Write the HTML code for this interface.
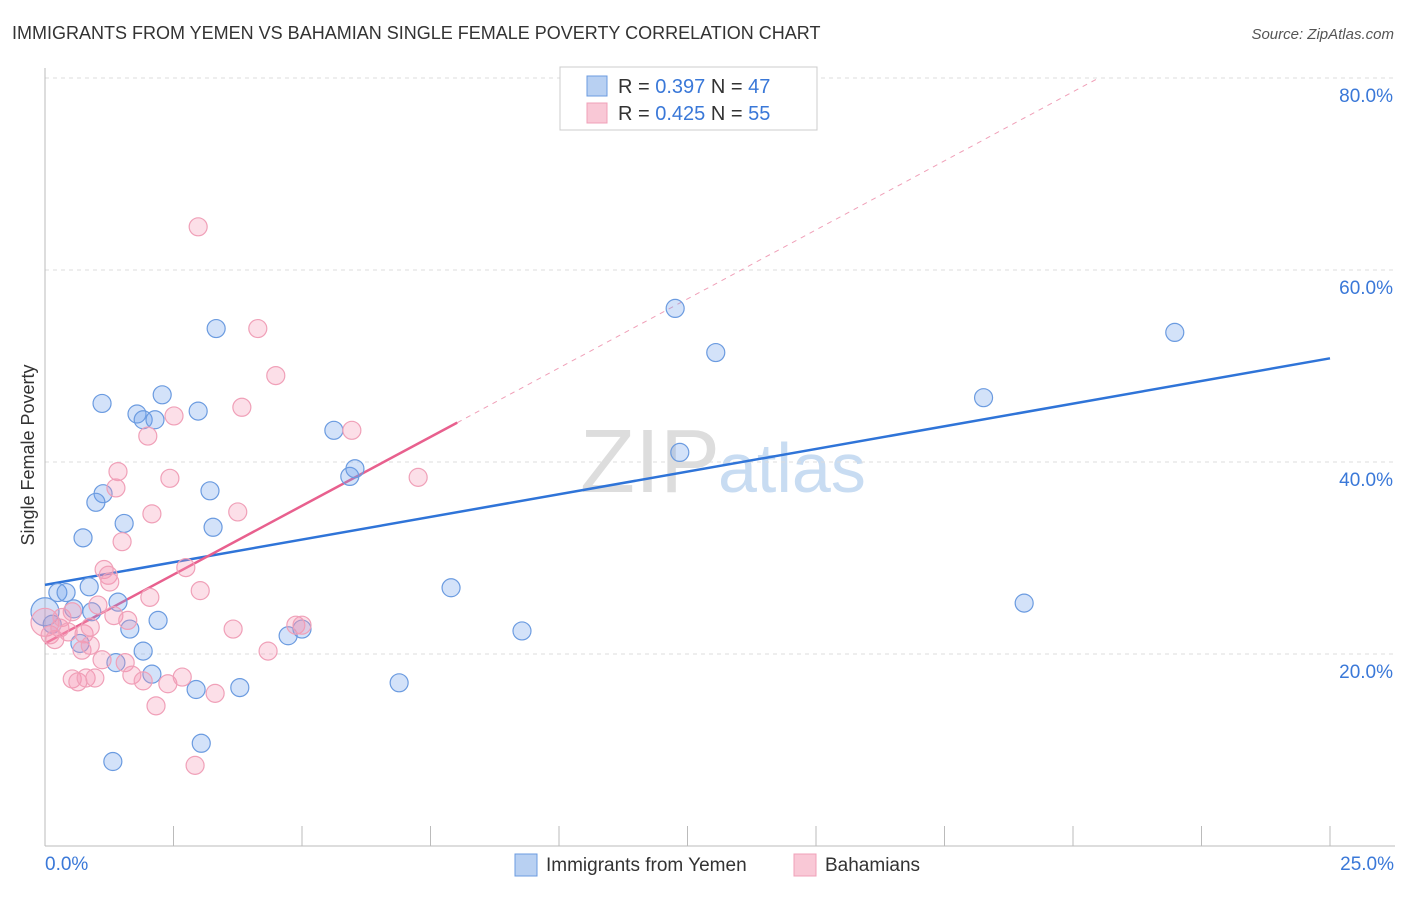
<!DOCTYPE html>
<html><head><meta charset="utf-8"><style>
body{margin:0;background:#fff;font-family:"Liberation Sans",sans-serif}
svg text{font-family:"Liberation Sans",sans-serif}
</style></head><body>
<svg id="chart" width="1406" height="892" xmlns="http://www.w3.org/2000/svg">
<text x="12" y="39" font-size="18" fill="#333">IMMIGRANTS FROM YEMEN VS BAHAMIAN SINGLE FEMALE POVERTY CORRELATION CHART</text>
<text x="1394" y="39" font-size="15" fill="#555" font-style="italic" text-anchor="end">Source: ZipAtlas.com</text>
<text x="720" y="492" font-size="90" fill="#ddd" text-anchor="end" font-family="Liberation Serif">ZIP</text>
<text x="718" y="492" font-size="70" fill="#c8dcf2">atlas</text>
<text transform="translate(34,455) rotate(-90)" font-size="18" fill="#333" text-anchor="middle">Single Female Poverty</text>
<g id="grid"></g><g id="ticks"></g><g id="lines"></g><g id="pts"></g>
<g>
<rect x="560" y="67" width="257" height="63" fill="#fff" stroke="#ccc"/>
<rect x="587" y="76" width="20" height="20" fill="#b8d0f2" stroke="#6b9be0"/>
<rect x="587" y="103" width="20" height="20" fill="#f9c8d6" stroke="#f0a0b8"/>
<text x="618" y="93" font-size="20" fill="#333">R = <tspan fill="#3a78d8">0.397</tspan>   N = <tspan fill="#3a78d8">47</tspan></text>
<text x="618" y="120" font-size="20" fill="#333">R = <tspan fill="#3a78d8">0.425</tspan>   N = <tspan fill="#3a78d8">55</tspan></text>
</g>
<g>
<rect x="515" y="854" width="22" height="22" fill="#b8d0f2" stroke="#6b9be0"/>
<text x="546" y="871" font-size="19" fill="#333">Immigrants from Yemen</text>
<rect x="794" y="854" width="22" height="22" fill="#f9c8d6" stroke="#f0a0b8"/>
<text x="825" y="871" font-size="19" fill="#333">Bahamians</text>
</g>
</svg>
<script>
const blueX=[0,0.14,0.25,0.41,0.56,0.74,0.86,0.68,0.91,1.11,1.13,0.99,1.54,1.32,1.38,1.42,1.65,1.79,1.91,2.14,2.2,1.91,2.08,2.28,2.98,2.94,3.04,3.21,3.27,3.33,3.79,4.73,5.0,5.62,5.93,6.03,6.89,7.9,9.28,12.26,12.35,13.05,18.26,19.05,21.98];
const blueY=[24.4,23.1,26.4,26.4,24.7,32.1,27.0,21.1,24.4,46.1,36.7,35.8,33.6,8.8,19.1,25.4,22.6,45.0,44.4,44.4,23.5,20.3,17.9,47.0,45.3,16.3,10.7,37.0,33.2,53.9,16.5,21.9,22.6,43.3,38.5,39.3,17.0,26.9,22.4,56.0,41.0,51.4,46.7,25.3,53.5];
const pinkX=[0,0.1,0.19,0.29,0.33,0.45,0.53,0.53,0.64,0.72,0.76,0.8,0.88,0.97,0.88,1.03,1.11,1.15,1.23,1.26,1.38,1.42,1.34,1.5,1.56,1.69,1.61,1.91,2.04,2.08,2.0,2.16,2.39,2.43,2.51,2.67,2.74,2.98,3.02,2.92,3.31,3.66,3.75,3.83,4.14,4.34,4.49,4.88,5.0,5.97,7.26];
const pinkY=[23.3,22.0,21.5,22.7,23.8,22.3,24.4,17.4,17.1,20.4,22.1,17.5,22.8,17.5,20.9,25.1,19.4,28.8,28.2,27.5,37.3,39.0,24.0,31.7,19.1,17.8,23.5,17.2,25.9,34.6,42.7,14.6,16.9,38.3,44.8,17.6,29.0,64.5,26.6,8.4,15.9,22.6,34.8,45.7,53.9,20.3,49.0,23.0,23.0,43.3,38.4];
const blueTrend=[0,27.2,25,50.8];
const pinkTrend=[0,21.1,8.02,44.1];
const pinkDash=[8.02,44.1,20.5,80];
const yTicks=[20,40,60,80];
const xTickLabels=["0.0%","25.0%"];
const NS="http://www.w3.org/2000/svg";
const sx=v=>45+v/25*1285, sy=v=>846-v*9.6;
function mk(t,a,p){const e=document.createElementNS(NS,t);for(const k in a)e.setAttribute(k,a[k]);document.getElementById(p).appendChild(e);return e;}
yTicks.forEach(v=>{
 const l=mk('line',{x1:45,x2:1395,y1:sy(v),y2:sy(v),stroke:'#ddd','stroke-dasharray':'4,4'},'grid');
 
 
 const t=mk('text',{x:1393,y:sy(v)+24,'font-size':19,fill:'#3a78d8','text-anchor':'end'},'ticks');t.textContent=v.toFixed(1)+'%';
 
 
});
mk('line',{x1:45,x2:45,y1:68,y2:846,stroke:'#bbb'},'grid');
mk('line',{x1:45,x2:1395,y1:846,y2:846,stroke:'#bbb'},'grid');
for(let i=0;i<=10;i++){const x=sx(i*2.5);const l=mk('line',{x1:x,x2:x,y1:826,y2:846,stroke:'#bbb'},'ticks');
 
 }
[[0,45,'start'],[1,1394,'end']].forEach(([i,x,a])=>{const t=mk('text',{x:x,y:870,'font-size':19,fill:'#3a78d8','text-anchor':a},'ticks');t.textContent=xTickLabels[i];
 
 });
function ln(d,c,w,dash,name){const l=mk('line',{x1:sx(d[0]),y1:sy(d[1]),x2:sx(d[2]),y2:sy(d[3]),stroke:c,'stroke-width':w},'lines');if(dash)l.setAttribute('stroke-dasharray',dash);
 
 }
function pts(X,Y,f,s,name){X.forEach((x,i)=>{const c=mk('circle',{cx:sx(x),cy:sy(Y[i]),r:i==0?14:9,fill:f,stroke:s,'stroke-width':1.2},'pts');
 
 });}
pts(blueX,blueY,'rgba(110,160,235,0.3)','#6b9be0','yemen-point');
pts(pinkX,pinkY,'rgba(245,150,180,0.3)','#f0a0b8','bahamians-point');
ln(pinkDash,'#f0a0b8',1,'5,5','bahamians-trend-extension');
ln(blueTrend,'#2f74d8',2.5,null,'yemen-trendline');
ln(pinkTrend,'#e8608e',2.5,null,'bahamians-trendline');
</script>
</body></html>
